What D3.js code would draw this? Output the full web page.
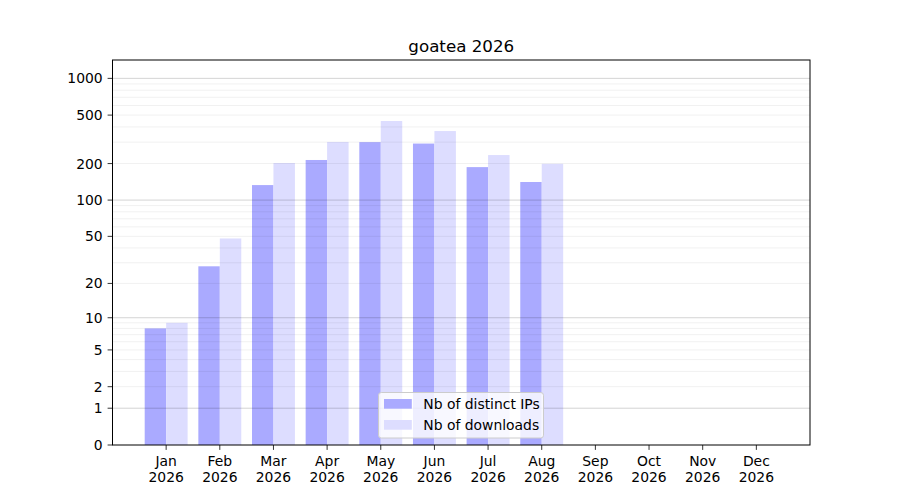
<!DOCTYPE html>
<html>
<head>
<meta charset="utf-8">
<script src="https://cdn.jsdelivr.net/npm/d3@7"></script>
<style>
  body { margin: 0; background: #fff; }
  svg { font-family: "DejaVu Sans", sans-serif; }
</style>
</head>
<body>
<svg id="chart" width="900" height="500"></svg>
<script>
// Data
const months = ["Jan", "Feb", "Mar", "Apr", "May", "Jun", "Jul", "Aug", "Sep", "Oct", "Nov", "Dec"];
const year = "2026";
const distinctIPs = [8, 28, 133, 214, 300, 292, 187, 141];
const downloads = [9, 48, 202, 301, 447, 370, 235, 199];
const yTicks = [0, 1, 2, 5, 10, 20, 50, 100, 200, 500, 1000];
const majorGrid = [1, 10, 100, 1000];
const minorGrid = [2, 3, 4, 5, 6, 7, 8, 9, 20, 30, 40, 50, 60, 70, 80, 90,
                   200, 300, 400, 500, 600, 700, 800, 900];
const seriesNames = ["Nb of distinct IPs", "Nb of downloads"];
const seriesColors = ["#aaaaff", "#ddddff"];

const plotL = 112.5, plotR = 810, plotT = 60, plotB = 445;
const svg = d3.select("svg#chart");

const x = d3.scaleLinear().domain([-1, 12]).range([plotL, plotR]);
const y = d3.scaleSymlog().constant(1).domain([0, 1414]).range([plotB, plotT]);
const barW = (x(1) - x(0)) * 0.4;

// Bars
const series = [distinctIPs, downloads];
series.forEach((vals, s) => {
    svg.append("g")
        .selectAll("rect")
        .data(vals)
        .join("rect")
        .attr("x", (_, i) => s === 0 ? x(i) - barW : x(i))
        .attr("y", d => y(d))
        .attr("width", barW)
        .attr("height", d => plotB - y(d))
        .attr("fill", seriesColors[s]);
});

// Grid over the bars
const grid = svg.append("g");
grid.selectAll("line.minor")
    .data(minorGrid)
    .join("line")
    .attr("class", "minor")
    .attr("x1", plotL).attr("x2", plotR)
    .attr("y1", d => y(d)).attr("y2", d => y(d))
    .attr("stroke", "#000").attr("stroke-opacity", 0.075).attr("stroke-width", 0.8);
grid.selectAll("line.major")
    .data(majorGrid)
    .join("line")
    .attr("class", "major")
    .attr("x1", plotL).attr("x2", plotR)
    .attr("y1", d => y(d)).attr("y2", d => y(d))
    .attr("stroke", "#000").attr("stroke-opacity", 0.22).attr("stroke-width", 0.8);

// Frame
svg.append("rect")
    .attr("x", plotL).attr("y", plotT)
    .attr("width", plotR - plotL).attr("height", plotB - plotT)
    .attr("fill", "none").attr("stroke", "#000").attr("stroke-width", 1);

// Y axis
const yAxis = svg.append("g");
yTicks.forEach(t => {
    yAxis.append("line")
        .attr("x1", plotL - 4.9).attr("x2", plotL)
        .attr("y1", y(t)).attr("y2", y(t))
        .attr("stroke", "#000").attr("stroke-width", 0.8);
    yAxis.append("text")
        .attr("x", plotL - 9.8).attr("y", y(t))
        .attr("dy", "0.36em")
        .attr("text-anchor", "end")
        .attr("font-size", "13.9px")
        .attr("fill", "#000")
        .text(t);
});

// X axis
const xAxis = svg.append("g");
months.forEach((m, i) => {
    xAxis.append("line")
        .attr("x1", x(i)).attr("x2", x(i))
        .attr("y1", plotB).attr("y2", plotB + 4.9)
        .attr("stroke", "#000").attr("stroke-width", 0.8);
    const t = xAxis.append("text")
        .attr("text-anchor", "middle")
        .attr("font-size", "13.9px")
        .attr("fill", "#000");
    t.append("tspan").attr("x", x(i)).attr("y", 466).text(m);
    t.append("tspan").attr("x", x(i)).attr("y", 482).text(year);
});

// Title
svg.append("text")
    .attr("x", (plotL + plotR) / 2).attr("y", 52)
    .attr("text-anchor", "middle")
    .attr("font-size", "16.7px")
    .attr("fill", "#000")
    .text("goatea " + year);

// Legend (lower center)
const lg = svg.append("g");
lg.append("rect")
    .attr("x", 378.5).attr("y", 392.5)
    .attr("width", 165).attr("height", 45.5)
    .attr("rx", 2.8)
    .attr("fill", "#fff").attr("fill-opacity", 0.8)
    .attr("stroke", "#cccccc").attr("stroke-width", 1);
seriesNames.forEach((name, i) => {
    const rowY = 399 + i * 21;
    lg.append("rect")
        .attr("x", 384).attr("y", rowY)
        .attr("width", 27.8).attr("height", 9.7)
        .attr("fill", seriesColors[i]);
    lg.append("text")
        .attr("x", 423.3).attr("y", rowY + 10)
        .attr("font-size", "13.9px")
        .attr("fill", "#000")
        .text(name);
});
</script>
</body>
</html>
